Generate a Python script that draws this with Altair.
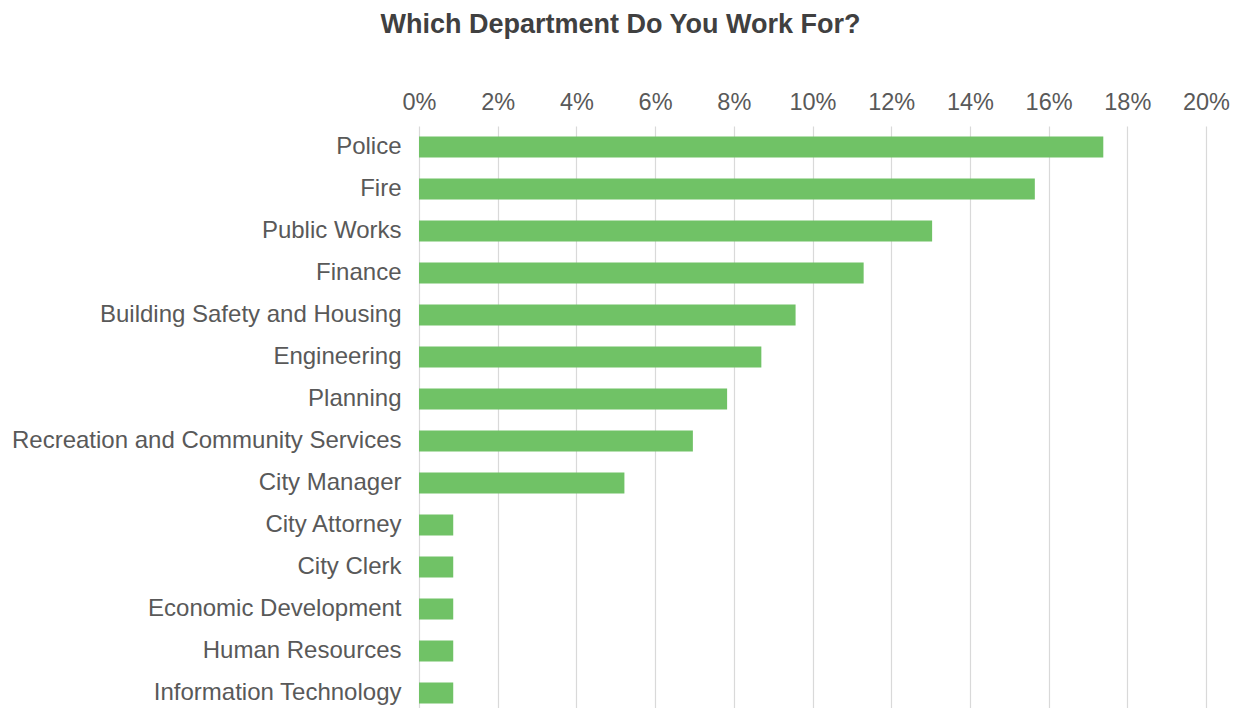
import altair as alt
import pandas as pd

departments = [
    "Police", "Fire", "Public Works", "Finance", "Building Safety and Housing",
    "Engineering", "Planning", "Recreation and Community Services", "City Manager",
    "City Attorney", "City Clerk", "Economic Development", "Human Resources",
    "Information Technology",
]
shares = [0.1739, 0.1565, 0.1304, 0.1130, 0.0957, 0.0870, 0.0783, 0.0696, 0.0522,
          0.0087, 0.0087, 0.0087, 0.0087, 0.0087]
x_ticks = [0, 0.02, 0.04, 0.06, 0.08, 0.10, 0.12, 0.14, 0.16, 0.18, 0.20]

df = pd.DataFrame({"Department": departments, "Share": shares})

FONT = "Liberation Sans"

chart = alt.Chart(df).mark_bar(color="#70c266").encode(
    x=alt.X("Share:Q",
            scale=alt.Scale(domain=[0, 0.2], nice=False),
            axis=alt.Axis(orient="top", format=".0%", values=x_ticks, title=None,
                          domain=False, ticks=False, labelPadding=12, labelFlush=False,
                          labelFontSize=23.5, labelColor="#595959", labelFont=FONT,
                          grid=True, gridColor="#d9d9d9", gridWidth=1.2)),
    y=alt.Y("Department:N", sort=departments,
            scale=alt.Scale(paddingInner=0.5, paddingOuter=0.25),
            axis=alt.Axis(title=None, domain=False, ticks=False, labelPadding=18,
                          labelFontSize=24, labelColor="#595959", labelFont=FONT,
                          labelLimit=600)),
).properties(
    width=787, height=588,
    title=alt.TitleParams("Which Department Do You Work For?", fontSize=27,
                          font=FONT, fontWeight="bold", color="#404040",
                          anchor="middle", frame="bounds", offset=51),
    padding={"left": 419, "top": 126, "right": 33, "bottom": 0},
    autosize=alt.AutoSizeParams(type="none"),
).configure_view(stroke=None)

chart.save("out.html", embed_options={"renderer": "svg", "actions": False})
